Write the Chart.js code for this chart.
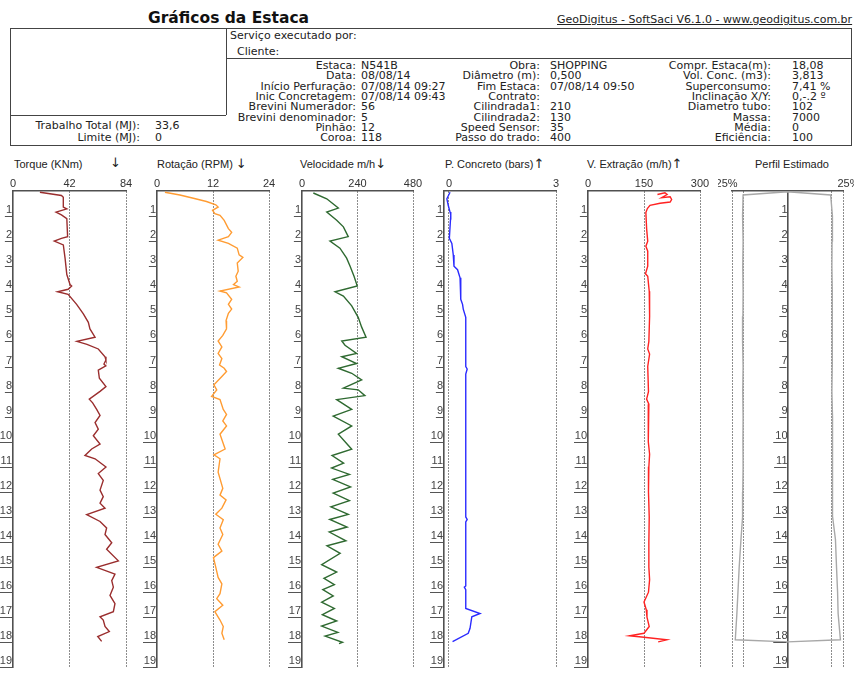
<!DOCTYPE html>
<html>
<head>
<meta charset="utf-8">
<title>Gráficos da Estaca</title>
<script src="https://cdn.jsdelivr.net/npm/chart.js@4.4.1/dist/chart.umd.min.js"></script>
<style>
  html, body { margin: 0; padding: 0; width: 854px; height: 675px; overflow: hidden; background: #fff; }
  body { position: relative; font-family: "Liberation Sans", Arial, sans-serif; font-size: 11px; color: #222; }
  .t { position: absolute; white-space: nowrap; line-height: 12px; }
  .h { font-family: "DejaVu Sans", sans-serif; font-size: 11px; }
  .arr { font-family: "DejaVu Sans", sans-serif; font-size: 13px; }
  .line-h { position: absolute; height: 0; border-top: 1px solid #444; }
  .line-v { position: absolute; width: 0; border-left: 1px solid #444; }
  canvas { position: absolute; }
</style>
</head>
<body>
<div class="t" style="left:148px;top:9px;font-family:'DejaVu Sans',sans-serif;font-weight:bold;font-size:15.5px;line-height:19px;color:#111;">Gráficos da Estaca</div>
<div class="t h" style="left:557px;top:14px;text-decoration:underline;">GeoDigitus - SoftSaci V6.1.0 - www.geodigitus.com.br</div>

<!-- header frame -->
<div class="line-h" style="left:10px;top:28px;width:842px;"></div>
<div class="line-h" style="left:10px;top:145px;width:842px;"></div>
<div class="line-v" style="left:10px;top:28px;height:117px;"></div>
<div class="line-v" style="left:851px;top:28px;height:117px;"></div>
<div class="line-v" style="left:226px;top:28px;height:87px;"></div>
<div class="line-h" style="left:10px;top:115px;width:216px;"></div>
<div class="line-h" style="left:226px;top:58px;width:626px;"></div>

<div class="t h" style="left:230px;top:30px;">Serviço executado por:</div>
<div class="t h" style="left:237px;top:46px;">Cliente:</div>

<div id="info"></div>

<!-- column titles -->
<div class="t" style="left:14px;top:158px;">Torque (KNm)</div>
<div class="t arr" style="left:110px;top:157px;">↓</div>
<div class="t" style="left:157px;top:158px;">Rotação (RPM) <span class="arr">↓</span></div>
<div class="t" style="left:300px;top:158px;">Velocidade m/h<span class="arr">↓</span></div>
<div class="t" style="left:445px;top:158px;">P. Concreto (bars)<span class="arr">↑</span></div>
<div class="t" style="left:587px;top:158px;">V. Extração (m/h)<span class="arr">↑</span></div>
<div class="t" style="left:755px;top:158px;">Perfil Estimado</div>

<canvas id="cTorque"   width="140" height="503" style="left:0px;top:172px;"></canvas>
<canvas id="cRotacao"  width="140" height="503" style="left:143px;top:172px;"></canvas>
<canvas id="cVeloc"    width="139" height="503" style="left:288px;top:172px;"></canvas>
<canvas id="cPressao"  width="140" height="503" style="left:430px;top:172px;"></canvas>
<canvas id="cExtracao" width="140" height="503" style="left:574px;top:172px;"></canvas>
<canvas id="cPerfil"   width="139" height="503" style="left:718px;top:172px;"></canvas>

<script>
// ---- pile record fields ----
const infoLabels1 = ['Estaca:', 'Data:', 'Início Perfuração:', 'Inic Concretagem:', 'Brevini Numerador:', 'Brevini denominador:', 'Pinhão:', 'Coroa:'];
const infoValues1 = ['N541B', '08/08/14', '07/08/14 09:27', '07/08/14 09:43', '56', '5', '12', '118'];
const infoLabels2 = ['Obra:', 'Diâmetro (m):', 'Fim Estaca:', 'Contrato:', 'Cilindrada1:', 'Cilindrada2:', 'Speed Sensor:', 'Passo do trado:'];
const infoValues2 = ['SHOPPING', '0,500', '07/08/14 09:50', '', '210', '130', '35', '400'];
const infoLabels3 = ['Compr. Estaca(m):', 'Vol. Conc. (m3):', 'Superconsumo:', 'Inclinação X/Y:', 'Diametro tubo:', 'Massa:', 'Média:', 'Eficiência:'];
const infoValues3 = ['18,08', '3,813', '7,41 %', '0,-.2 º', '102', '7000', '0', '100'];
const workLabels = ['Trabalho Total (MJ):', 'Limite (MJ):'];
const workValues = ['33,6', '0'];

// ---- depth axis ----
const depthTicks = [1, 2, 3, 4, 5, 6, 7, 8, 9, 10, 11, 12, 13, 14, 15, 16, 17, 18, 19];

// ---- Torque (KNm) ----
const torqueDepth = [0.05,0.18,0.25,0.64,0.71,0.84,0.95,1.1,1.82,1.89,2.0,2.15,2.68,3.33,3.73,3.79,3.92,4.02,4.12,4.52,4.9,5.24,5.5,5.83,6.0,6.12,6.3,6.61,6.74,6.9,6.97,7.14,7.47,7.8,7.99,8.3,8.45,8.71,8.95,9.24,9.5,9.76,10.09,10.29,10.55,10.68,11.01,11.27,11.54,11.93,12.19,12.45,12.65,12.91,13.18,13.44,13.7,14.03,14.29,14.75,15.01,15.28,15.54,15.8,16.13,16.46,16.78,16.98,17.11,17.37,17.57,17.77,17.96];
const torqueValue = [20,36,37.4,37.4,40,32,36,40,40.6,36,30.7,37.4,38.7,40,42.4,43.6,41,33.2,41,47.3,52.3,56,57.2,61,47.5,55,63.4,68.4,69.1,67.6,69,63.4,64.2,69.1,64.7,56.7,59.2,62.2,64.7,61,63.4,59.7,64.7,58.5,53.5,61,69.1,63.4,67.1,64.7,67.1,64.7,68.4,54.8,64.7,69.6,68.4,73.4,69.6,78.3,62.2,75.8,73.4,74.6,72.1,75.8,74.6,64.7,67.1,68.4,71.6,63,65.9];

// ---- Rotação (RPM) ----
const rotDepth = [0.05,0.16,0.29,0.42,0.55,0.64,0.77,0.9,0.97,1.17,1.5,1.65,1.82,1.96,2.09,2.28,2.55,2.65,2.87,3.2,3.4,3.6,3.73,3.83,3.99,4.06,4.32,4.52,4.71,4.88,5.17,5.5,5.76,5.98,6.22,6.48,6.68,6.94,7.07,7.2,7.4,7.73,7.93,8.19,8.32,8.71,8.91,9.17,9.37,9.7,10.29,10.52,10.68,11.21,11.86,12.13,12.32,12.65,12.89,13.11,13.44,13.7,14.09,14.36,14.62,15.01,15.41,15.67,16.06,16.26,16.52,16.78,17.11,17.37,17.64,17.9];
const rotValue = [1.7,4.9,7.8,10.6,12.6,13.1,11.9,12.4,13.5,14.4,15.3,16,15.3,13.1,15.3,17.2,17.6,18.4,17.2,17.4,16.9,17.2,16.4,17.6,13.5,14.9,16,15.3,16,15.3,14.8,14.9,14.1,13.1,13.9,13.1,13.9,13.4,14.4,14.9,13.9,12.2,12.8,11.7,13.5,14.2,14.9,14.1,14.9,13.5,14.6,12.2,13.5,13.1,14.1,13.5,14.8,13.9,12.6,14.2,13.5,14.1,13.1,13.9,12.1,12.6,13.1,13.9,13.5,12.8,14.1,12.4,13.5,14.2,13.9,14.4];

// ---- Velocidade (m/h) ----
const velDepth = [0.08,0.31,0.68,0.84,1.17,1.43,1.82,2.0,2.28,2.68,3.0,3.4,3.79,4.02,4.19,4.58,5.04,5.43,5.83,5.98,6.15,6.48,6.61,6.88,7.07,7.27,7.53,7.86,7.93,8.16,8.32,8.71,8.98,9.37,9.7,10.3,10.55,10.85,11.05,11.3,11.5,11.8,12.05,12.35,12.6,12.9,13.1,13.4,13.6,13.95,14.15,14.45,14.9,15.2,15.45,15.7,15.9,16.15,16.4,16.65,16.9,17.15,17.35,17.6,17.75,18.0,18.05];
const velValue = [49,107,157,107,150,179,200,121,164,193,208,225,239,143,179,215,243,258,277,172,186,236,172,236,157,215,258,179,243,272,150,215,135,215,157,215,130,180,128,205,133,210,135,205,125,200,120,195,118,190,108,165,85,150,95,140,90,135,85,140,88,150,85,155,100,175,160];

// ---- P. Concreto (bars) ----
const presDepth = [0.05,0.31,0.58,0.84,0.95,1.89,2.09,2.55,3.0,3.14,3.46,4.32,4.52,4.71,5.04,7.0,7.1,7.3,13.0,13.1,13.2,15.75,15.8,15.9,16.65,16.85,16.98,17.44,17.64,17.97];
const presValue = [0.03,-0.06,-0.02,0.03,0.05,0.01,0.08,0.12,0.14,0.24,0.31,0.33,0.38,0.4,0.47,0.47,0.51,0.47,0.47,0.51,0.47,0.47,0.43,0.47,0.47,0.87,0.64,0.59,0.54,0.1];

// ---- V. Extração (m/h) ----
const extDepth = [0.14,0.07,0.14,0.27,0.23,0.34,0.44,0.49,0.57,0.7,0.86,1.5,2.0,2.2,2.4,3.0,3.3,3.4,4.0,5.0,6.0,6.3,6.5,7.0,8.0,8.3,8.5,9.0,10.0,10.5,11.0,12.0,13.0,14.0,15.0,15.5,16.0,16.39,16.7,17.0,17.37,17.64,17.74,17.8,17.9,17.98];
const extValue = [186,206,212,197,220,224,220,193,166,159,155,157,160,155,160,160,154,160,164,165,163,160,165,160,162,157,163,161,162,165,163,162,164,163,163,165,162,150,156,158,164,150,111,150,211,188];

// ---- Perfil Estimado (raio, m) ----
const profDepth = [0.03,0.16,1,2,3,4,5,6,7,8,9,10,11,12,13,13.9,15,16,16.85,17.9,17.98,17.9,16.85,16,15,13.9,13,12,11,10,9,8,7,6,5,4,3,2,1,0.16,0.03];
const profRadius = [0,-0.25,-0.253,-0.25,-0.252,-0.25,-0.251,-0.253,-0.25,-0.252,-0.25,-0.251,-0.25,-0.252,-0.253,-0.262,-0.272,-0.279,-0.285,-0.294,0,0.298,0.285,0.282,0.276,0.27,0.254,0.253,0.256,0.252,0.253,0.25,0.252,0.254,0.251,0.252,0.25,0.251,0.253,0.243,0];

// ---- header text ----
(function buildInfo() {
  const host = document.getElementById('info');
  const add = (txt, css) => {
    const d = document.createElement('div');
    d.className = 't h';
    d.style.cssText = css;
    d.textContent = txt;
    host.appendChild(d);
  };
  const cols = [
    [infoLabels1, infoValues1, 498, 361],
    [infoLabels2, infoValues2, 314, 550],
    [infoLabels3, infoValues3, 83, 792]
  ];
  cols.forEach(([labels, values, right, left]) => {
    labels.forEach((lab, i) => {
      const top = 60 + i * 10.3;
      add(lab, `right:${right}px;top:${top}px;text-align:right;`);
      add(values[i], `left:${left}px;top:${top}px;`);
    });
  });
  workLabels.forEach((lab, i) => {
    const top = 120 + i * 11.5;
    add(lab, `right:714px;top:${top}px;text-align:right;`);
    add(workValues[i], `left:155px;top:${top}px;`);
  });
})();

// ---- chart helpers ----
const AXIS_COLOR = '#505050';
const DOT_COLOR = '#1a1a1a';
const TICK_FONT = { family: '"Liberation Sans", Arial, sans-serif', size: 11 };

// underline under each depth label
const underlineDepth = {
  id: 'underlineDepth',
  afterDraw(chart) {
    const ys = chart.scales.y;
    const ctx = chart.ctx;
    const centered = typeof ys.options.position === 'object';
    const xr = (centered ? chart.scales.x.getPixelForValue(0) : ys.right) - 1;
    ctx.save();
    ctx.font = '11px "Liberation Sans", Arial, sans-serif';
    ctx.strokeStyle = '#555';
    ctx.lineWidth = 1;
    ys.ticks.forEach(t => {
      const w = ctx.measureText(String(t.label)).width;
      const y = Math.round(ys.getPixelForValue(t.value)) + 0.5;
      ctx.beginPath();
      ctx.moveTo(xr - w - 1, y);
      ctx.lineTo(xr, y);
      ctx.stroke();
    });
    ctx.restore();
  }
};

function points(xs, ys) {
  return xs.map((v, i) => ({ x: v, y: ys[i] }));
}

function makePanel(id, cfg) {
  const centered = !!cfg.centerAxis;
  new Chart(document.getElementById(id), {
    type: 'scatter',
    data: {
      datasets: [{
        data: points(cfg.values, cfg.depths),
        showLine: true,
        borderColor: cfg.color,
        borderWidth: 1.4,
        pointRadius: 0,
        tension: 0,
        fill: false
      }]
    },
    options: {
      responsive: false,
      devicePixelRatio: 1,
      animation: false,
      events: [],
      layout: { padding: { left: centered ? 14 : 0, right: 14, top: 0, bottom: 0 } },
      plugins: { legend: { display: false }, tooltip: { enabled: false } },
      scales: {
        x: {
          type: 'linear',
          position: 'top',
          min: cfg.xMin,
          max: cfg.xMax,
          afterBuildTicks: s => { s.ticks = cfg.xTicks.map(v => ({ value: v })); },
          afterFit: s => { s.height = 19; s.paddingLeft = 0; s.paddingRight = 0; },
          ticks: {
            font: TICK_FONT,
            color: '#333',
            padding: 0,
            maxRotation: 0,
            autoSkip: false,
            callback: (v, i) => cfg.xLabels[i]
          },
          grid: {
            drawTicks: false,
            lineWidth: 1,
            color: c => (c.tick && cfg.dotted.includes(c.tick.value)) ? DOT_COLOR : 'rgba(0,0,0,0)'
          },
          border: { display: true, color: AXIS_COLOR, width: 1.5, dash: [1, 2] }
        },
        y: {
          type: 'linear',
          reverse: true,
          min: 0,
          max: 19,
          position: centered ? { x: 0 } : 'left',
          afterBuildTicks: s => { s.ticks = depthTicks.map(v => ({ value: v })); },
          afterFit: s => { if (!centered) s.width = cfg.yWidth || 14; },
          grid: { display: false, drawTicks: false, tickLength: 0 },
          border: { display: true, color: AXIS_COLOR, width: 1.6 },
          ticks: {
            font: TICK_FONT,
            color: '#444',
            padding: 1,
            labelOffset: -6,
            autoSkip: false,
            callback: v => String(v)
          }
        }
      }
    },
    plugins: [underlineDepth]
  });
}

makePanel('cTorque', {
  depths: torqueDepth, values: torqueValue, color: '#9a2e2e',
  xMin: 0, xMax: 84, xTicks: [0, 42, 84], xLabels: ['0', '42', '84'], dotted: [42, 84], yWidth: 13
});
makePanel('cRotacao', {
  depths: rotDepth, values: rotValue, color: '#ff9c33',
  xMin: 0, xMax: 24, xTicks: [0, 12, 24], xLabels: ['0', '12', '24'], dotted: [12, 24]
});
makePanel('cVeloc', {
  depths: velDepth, values: velValue, color: '#2f6a31',
  xMin: 0, xMax: 480, xTicks: [0, 240, 480], xLabels: ['0', '240', '480'], dotted: [240, 480]
});
makePanel('cPressao', {
  depths: presDepth, values: presValue, color: '#2b2bff',
  xMin: -0.14, xMax: 3, xTicks: [0, 3], xLabels: ['0', '3'], dotted: [0, 3]
});
makePanel('cExtracao', {
  depths: extDepth, values: extValue, color: '#ff2222',
  xMin: 0, xMax: 300, xTicks: [0, 150, 300], xLabels: ['0', '150', '300'], dotted: [150, 300]
});
makePanel('cPerfil', {
  depths: profDepth, values: profRadius, color: '#a8a8a8', centerAxis: true,
  xMin: -0.3125, xMax: 0.3125,
  xTicks: [-0.343, -0.3125, -0.25, 0.25, 0.3125, 0.343],
  xLabels: ['25%', '', '', '', '', '25%'],
  dotted: [-0.3125, -0.25, 0.25, 0.3125]
});
</script>
</body>
</html>
